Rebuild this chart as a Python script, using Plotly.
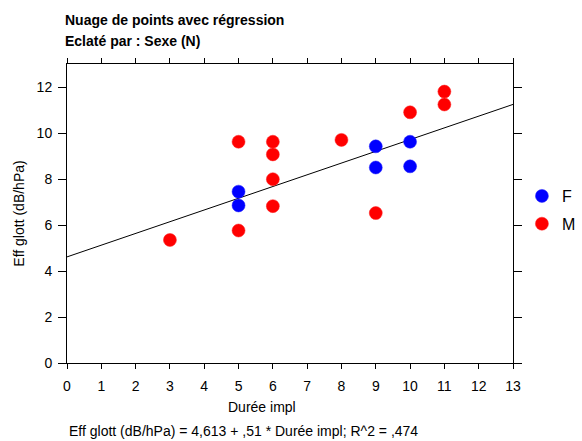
import plotly.graph_objects as go

# Data
f_x = [5, 5, 9, 9, 10, 10]
f_y = [7.45, 6.85, 9.42, 8.5, 9.62, 8.55]
m_x = [3, 5, 5, 6, 6, 6, 6, 8, 9, 10, 11, 11]
m_y = [5.35, 9.62, 5.76, 9.62, 9.07, 7.99, 6.82, 9.7, 6.52, 10.9, 11.8, 11.24]
intercept = 4.613
slope = 0.51
x_range = [0, 13]
y_range = [0, 13]

FONT = "Liberation Sans, Arial, sans-serif"

fig = go.Figure()
fig.add_trace(go.Scatter(x=x_range, y=[intercept + slope * v for v in x_range],
                         mode="lines", line=dict(color="black", width=1),
                         showlegend=False, hoverinfo="skip"))
fig.add_trace(go.Scatter(x=f_x, y=f_y, mode="markers", name="F", legendgroup="F",
                         marker=dict(color="#0000FF", size=13,
                                     line=dict(color="#2020ff", width=0.5))))
fig.add_trace(go.Scatter(x=m_x, y=m_y, mode="markers", name="M", legendgroup="M",
                         marker=dict(color="#FF0000", size=13,
                                     line=dict(color="#ff2020", width=0.5))))

axis_common = dict(showline=True, linecolor="black", linewidth=1, mirror="ticks",
                   ticks="outside", tickcolor="black", showgrid=False,
                   zeroline=False, automargin=False,
                   tickfont=dict(size=14, color="black", family=FONT))

fig.update_xaxes(range=x_range, dtick=1, tick0=0, ticklen=5, ticklabelstandoff=5,
                 **axis_common)
fig.update_yaxes(range=y_range, dtick=2, tick0=0, ticklen=8, ticklabelstandoff=3,
                 title=dict(text="Eff glott (dB/hPa)", font=dict(size=14, color="black", family=FONT),
                            standoff=8),
                 **axis_common)

PW, PH = 446, 299  # plot area size in px

fig.update_layout(
    width=582, height=441,
    margin=dict(l=67, r=69, t=64, b=78, autoexpand=False),
    plot_bgcolor="white", paper_bgcolor="white",
    font=dict(family=FONT, color="black", size=14),
    legend=dict(x=1.02, y=(363 - 210) / PH, xanchor="left", yanchor="middle",
                font=dict(size=16, color="black", family=FONT),
                bgcolor="rgba(0,0,0,0)", itemwidth=30, tracegroupgap=4),
    annotations=[
        dict(text="<b>Nuage de points avec régression</b>", xref="paper", yref="paper",
             x=(63 - 67) / PW, y=1 + (64 - 20) / PH, xanchor="left", yanchor="middle",
             showarrow=False, font=dict(size=14, family=FONT, color="black")),
        dict(text="<b>Eclaté par : Sexe (N)</b>", xref="paper", yref="paper",
             x=(63 - 67) / PW, y=1 + (64 - 41) / PH, xanchor="left", yanchor="middle",
             showarrow=False, font=dict(size=14, family=FONT, color="black")),
        dict(text="Durée impl", xref="paper", yref="paper",
             x=(262 - 67) / PW, y=-(407 - 363) / PH, xanchor="center", yanchor="middle",
             showarrow=False, font=dict(size=14, family=FONT, color="black")),
        dict(text="Eff glott (dB/hPa) = 4,613 + ,51 * Durée impl; R^2 = ,474",
             xref="paper", yref="paper",
             x=(243 - 67) / PW, y=-(431 - 363) / PH, xanchor="center", yanchor="middle",
             showarrow=False, font=dict(size=14, family=FONT, color="black")),
    ],
)

fig.write_html("out.html", config={"displayModeBar": False},
               post_script="document.body.style.margin='0';")
